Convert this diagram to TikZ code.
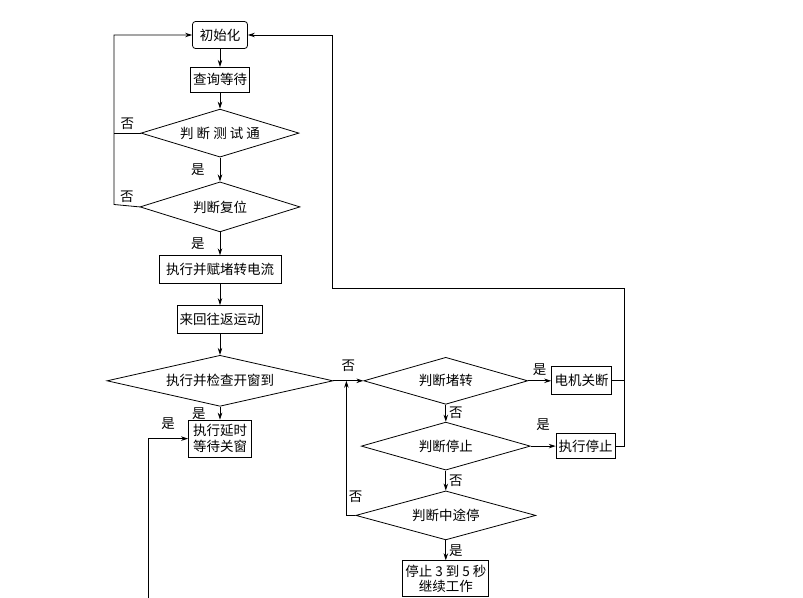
\documentclass[tikz,border=0pt]{standalone}
\usepackage{fontspec}
\newfontfamily\cjk{Noto Sans CJK SC}
\usetikzlibrary{shapes.geometric, arrows.meta, positioning, calc}

\begin{document}
\begin{tikzpicture}[
    x=1pt, y=-1pt, line width=0.8pt,
    box/.style={rectangle, draw, inner sep=2pt, align=center, font=\cjk\fontsize{13.5}{16}\selectfont},
    dec/.style={diamond, draw, aspect=3.4, inner sep=1pt, font=\cjk\fontsize{13.5}{16}\selectfont},
    lbl/.style={inner sep=1pt, font=\cjk\fontsize{13.5}{16}\selectfont},
    arrow/.style={->, >={Stealth[length=7pt, width=4.5pt]}}
]
    \useasboundingbox (0,0) rectangle (803,597);
    \clip (0,0) rectangle (803,597);

    % main column
    \node [box, rounded corners=3pt, minimum width=55pt, minimum height=27pt] (init) at (220,35) {初始化};
    \node [box, minimum width=59pt, minimum height=25pt, below=18pt of init] (wait) {查询等待};
    \node [dec, minimum width=158pt, minimum height=48pt, below=16pt of wait] (test) {判 断 测 试 通};
    \node [dec, minimum width=160pt, minimum height=50pt, below=24pt of test] (reset) {判断复位};
    \node [box, minimum width=122pt, minimum height=28pt, below=23pt of reset] (cur) {执行并赋堵转电流};
    \node [box, minimum width=85pt, minimum height=28pt, below=21pt of cur] (move) {来回往返运动};
    \node [dec, aspect=4.4, minimum width=226pt, minimum height=51pt, below=21pt of move] (check) {执行并检查开窗到};
    \node [box, minimum width=63pt, minimum height=37pt, below=13pt of check] (delay) {执行延时\\等待关窗};

    % right column
    \node [dec, minimum width=164pt, minimum height=47pt, right=30pt of check] (jam) {判断堵转};
    \node [box, minimum width=60pt, minimum height=28pt, right=23pt of jam] (off) {电机关断};
    \node [dec, minimum width=169pt, minimum height=48pt, below=17pt of jam] (stop) {判断停止};
    \node [box, minimum width=59pt, minimum height=25pt, right=25pt of stop] (halt) {执行停止};
    \node [dec, minimum width=180pt, minimum height=49pt, below=20pt of stop] (mid) {判断中途停};
    \node [box, minimum width=86pt, minimum height=36pt, below=20pt of mid, font=\cjk\fontsize{13.5}{15}\selectfont] (fin) {停止 3 到 5 秒\\继续工作};

    \draw [arrow] (init) -- (wait);
    \draw [arrow] (wait) -- (test);
    \draw [arrow] (test) -- node[lbl, left=14pt] {是} (reset);
    \draw [arrow] (reset) -- node[lbl, left=14pt] {是} (cur);
    \draw [arrow] (cur) -- (move);
    \draw [arrow] (move) -- (check);
    \draw [arrow] (check) -- node[lbl, left=13pt] {是} (delay);

    % loop back from the tests
    \coordinate (lp) at (114,204.5);
    \draw [arrow] (reset.west) -- node[lbl, above=2pt] {否} (lp) |- (init.west);
    \draw (test.west) -- node[lbl, above=2pt] {否} (test.west -| lp);

    \coordinate (bl) at (148,600);
    \draw [arrow] (bl) |- node[lbl, pos=0.75, above=8pt] {是} (delay.west);

    % right branch
    \coordinate (jn) at ($(check.east)+(13,0)$);
    \draw [arrow] (check.east) -- node[lbl, above=8pt] {否} (jam.west);
    \draw [arrow] (mid.west) -| node[lbl, pos=0.57, right=1pt] {否} (jn);
    \draw [arrow] (jam) -- node[lbl, above=4pt] {是} (off);
    \draw [arrow] (jam) -- node[lbl, right=2pt] {否} (stop);
    \draw [arrow] (stop) -- node[lbl, above=14pt] {是} (halt);
    \draw [arrow] (stop) -- node[lbl, right=2pt] {否} (mid);
    \draw [arrow] (mid) -- node[lbl, right=2pt] {是} (fin);

    % back to init
    \coordinate (rt) at (624,288);
    \coordinate (lt) at (332,288);
    \draw [arrow] (halt.east) -| (rt) -- (lt) |- (init.east);
    \draw (off.east) -- (off.east -| rt);
\end{tikzpicture}
\end{document}
